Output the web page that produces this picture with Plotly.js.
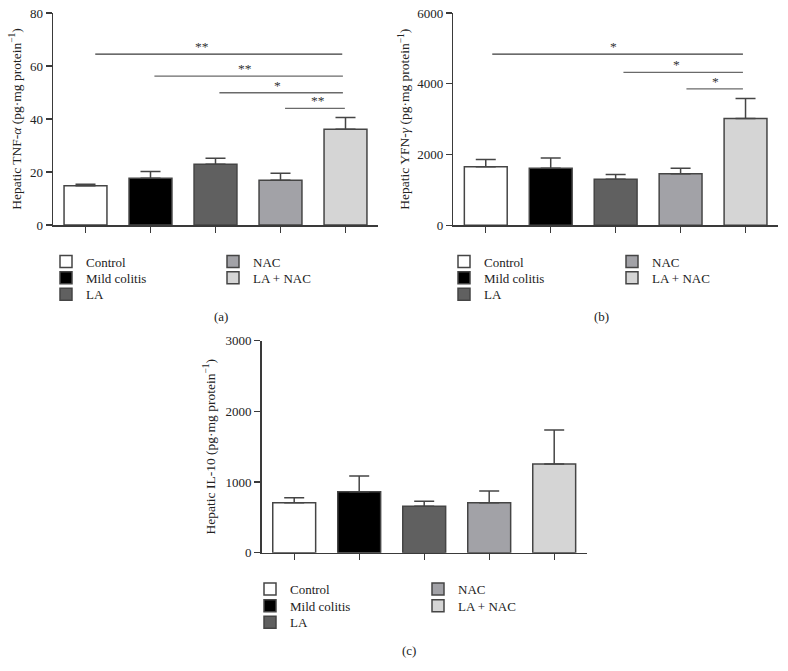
<!DOCTYPE html>
<html><head><meta charset="utf-8">
<script src="https://cdn.plot.ly/plotly-3.0.1.min.js"></script>
<style>html,body{margin:0;padding:0;background:#fff}#chart{width:788px;height:671px}</style>
</head><body><div id="chart"></div>
<script>
// ---- data ----
const groups = ['Control', 'Mild colitis', 'LA', 'NAC', 'LA + NAC'];
const groupColors = ['#ffffff', '#000000', '#606060', '#a2a2a7', '#d5d5d5'];

const tnfMean = [14.8, 17.6, 22.9, 16.9, 36.1];
const tnfSem  = [0.6, 2.6, 2.3, 2.6, 4.5];
const ifnMean = [1658, 1613, 1302, 1460, 3017];
const ifnSem  = [199, 292, 132, 153, 566];
const il10Mean = [708, 863, 656, 707, 1255];
const il10Sem  = [70, 222, 71, 166, 481];

// significance brackets (x in group-index units, y in data units)
const tnfSigFrom  = [0.15, 1.06, 2.06, 3.07];
const tnfSigTo    = [3.95, 3.96, 3.96, 3.99];
const tnfSigY     = [64.5, 56.2, 49.9, 44.0];
const tnfSigLabel = ['**', '**', '*', '**'];
const tnfSigLabelX = [1.79, 2.46, 2.95, 3.57];

const ifnSigFrom  = [0.10, 2.12, 3.09];
const ifnSigTo    = [3.96, 3.96, 3.96];
const ifnSigY     = [4840, 4320, 3858];
const ifnSigLabel = ['*', '*', '*'];
const ifnSigLabelX = [1.96, 2.94, 3.53];

const yTicksA = [0, 20, 40, 60, 80];
const yTicksB = [0, 2000, 4000, 6000];
const yTicksC = [0, 1000, 2000, 3000];

// ---- build ----
const FONT = 'Liberation Serif, Times New Roman, serif';
const W = 788, H = 671;
const px = v => v / W, py = v => 1 - v / H;

// legend placement per panel: text x of the two columns, y of first row, row step
const legendPlace = [
  {cols: [86, 253], row0: 260.5, step: 16.4},
  {cols: [484, 652], row0: 260.5, step: 16.4},
  {cols: [290, 458], row0: 588, step: 16.7}
];
const legendLayouts = {};
function legendId(p, i) { const n = p * 5 + i + 1; return n === 1 ? 'legend' : 'legend' + n; }
legendPlace.forEach((lp, p) => {
  groups.forEach((g, i) => {
    const col = i < 3 ? 0 : 1, row = i < 3 ? i : i - 3;
    const yc = lp.row0 + row * lp.step;
    legendLayouts[legendId(p, i)] = {
      x: px(lp.cols[col] - 40), y: py(yc - 14), xanchor: 'left', yanchor: 'top',
      orientation: 'v', bgcolor: 'rgba(0,0,0,0)', borderwidth: 0,
      font: {family: FONT, size: 13, color: '#222'}, itemclick: false, itemdoubleclick: false
    };
  });
});

function panelTraces(means, sems, xa, ya, p) {
  return groups.map((g, i) => ({
    type: 'bar', x: [i], y: [means[i]], width: 0.66, name: g,
    xaxis: xa, yaxis: ya, legend: legendId(p, i),
    marker: {color: groupColors[i], line: {color: '#454545', width: 1.5}},
    error_y: {type: 'data', symmetric: false, array: [sems[i]], arrayminus: [0],
              color: '#454545', thickness: 1.5, width: 10},
    hoverinfo: 'skip'
  }));
}
function sigTraces(from, to, ys, xa, ya) {
  return from.map((f, i) => ({
    type: 'scatter', mode: 'lines', x: [f, to[i]], y: [ys[i], ys[i]],
    xaxis: xa, yaxis: ya, showlegend: false, hoverinfo: 'skip',
    line: {color: i === 0 ? '#3a3a3a' : '#6a6a6a', width: 1.3}
  }));
}
function sigAnn(labels, lx, ys, xa, ya) {
  return labels.map((t, i) => ({
    text: t, x: lx[i], y: ys[i], xref: xa, yref: ya, showarrow: false,
    yanchor: 'bottom', yshift: -2, font: {family: FONT, size: 13.5, color: '#333'}
  }));
}

const data = [].concat(
  panelTraces(tnfMean, tnfSem, 'x', 'y', 0),
  sigTraces(tnfSigFrom, tnfSigTo, tnfSigY, 'x', 'y'),
  panelTraces(ifnMean, ifnSem, 'x2', 'y2', 1),
  sigTraces(ifnSigFrom, ifnSigTo, ifnSigY, 'x2', 'y2'),
  panelTraces(il10Mean, il10Sem, 'x3', 'y3', 2)
);

const axLine = '#3a3a3a';
function xAxis(d0, d1, anchor) {
  return {domain: [px(d0), px(d1)], anchor: anchor, range: [-0.5, 4.5],
    showgrid: false, zeroline: false, showline: true, linecolor: axLine, linewidth: 1.5,
    ticks: 'outside', ticklen: 6, tickwidth: 1.3, tickcolor: axLine,
    tickvals: groups.map((g, i) => i), showticklabels: false, fixedrange: true};
}
function yAxis(top, bottom, anchor, range, tickvals, title, standoff) {
  return {domain: [py(bottom), py(top)], anchor: anchor, range: range,
    showgrid: false, zeroline: false, showline: true, linecolor: axLine, linewidth: 1.5,
    ticks: 'outside', ticklen: 6, tickwidth: 1.3, tickcolor: axLine,
    tickvals: tickvals, tickfont: {family: FONT, size: 13, color: '#222'},
    title: {text: title, font: {family: FONT, size: 13.5, color: '#222'}, standoff: standoff},
    automargin: false, fixedrange: true};
}
const unit = ' (pg·mg protein<sup>−1</sup>)';

const layout = Object.assign({
  width: W, height: H, margin: {l: 0, r: 0, t: 0, b: 0},
  paper_bgcolor: '#fff', plot_bgcolor: '#fff', barmode: 'overlay',
  font: {family: FONT, size: 13, color: '#222'},
  xaxis: xAxis(53, 378, 'y'),
  yaxis: yAxis(13, 225, 'x', [0, 80], yTicksA, 'Hepatic TNF-<i>α</i>' + unit, 5),
  xaxis2: xAxis(453.3, 778, 'y2'),
  yaxis2: yAxis(13, 225.3, 'x2', [0, 6000], yTicksB, 'Hepatic YFN-<i>γ</i>' + unit, 4),
  xaxis3: xAxis(261.7, 586.7, 'y3'),
  yaxis3: yAxis(340.7, 552.7, 'x3', [0, 3000], yTicksC, 'Hepatic IL-10' + unit, 7),
  annotations: [].concat(
    sigAnn(tnfSigLabel, tnfSigLabelX, tnfSigY, 'x', 'y'),
    sigAnn(ifnSigLabel, ifnSigLabelX, ifnSigY, 'x2', 'y2'),
    [
      {text: '(a)', x: px(212), y: py(316), xref: 'paper', yref: 'paper', showarrow: false, font: {family: FONT, size: 13, color: '#222'}},
      {text: '(b)', x: px(611), y: py(316), xref: 'paper', yref: 'paper', showarrow: false, font: {family: FONT, size: 13, color: '#222'}},
      {text: '(c)', x: px(409), y: py(660), xref: 'paper', yref: 'paper', showarrow: false, font: {family: FONT, size: 13, color: '#222'}}
    ]
  )
}, legendLayouts);

Plotly.newPlot('chart', data, layout, {staticPlot: true, displayModeBar: false});
</script>
</body></html>
